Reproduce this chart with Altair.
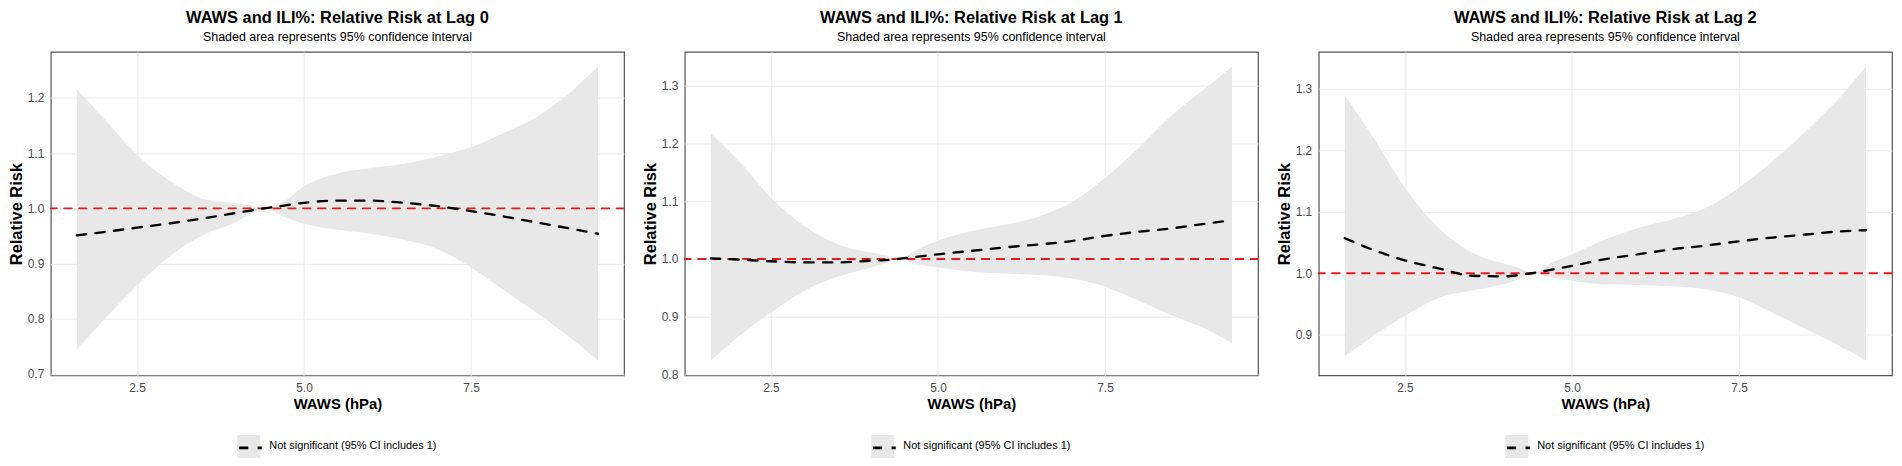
import altair as alt
import numpy as np
import pandas as pd

FONT = "Liberation Sans"
BAND_GREY = "#e8e8e8"
REF_RED = "#e41a1c"
LEGEND_LABEL = "Not significant (95% CI includes 1)"
SUBTITLE = "Shaded area represents 95% confidence interval"

# exposure grid (WAWS, hPa) shared by the three lags
waws = [1.6, 2.0, 2.5, 3.0, 3.5, 4.0, 4.2, 4.4, 4.7, 5.0, 5.5, 6.0, 6.5, 7.0, 7.5, 8.0, 8.5, 9.0, 9.4]
x_ticks = [2.5, 5.0, 7.5]
ref_rr = [1.0]

lags = [0, 1, 2]

rr_lag0 = [0.951, 0.957, 0.965, 0.973, 0.982, 0.992, 0.996, 1.000, 1.005, 1.010,
           1.014, 1.014, 1.010, 1.004, 0.995, 0.985, 0.974, 0.963, 0.954]
lo_lag0 = [0.744, 0.797, 0.860, 0.914, 0.952, 0.976, 0.990, 1.000, 0.985, 0.972,
           0.961, 0.954, 0.943, 0.926, 0.893, 0.851, 0.809, 0.764, 0.724]
hi_lag0 = [1.216, 1.164, 1.097, 1.049, 1.017, 1.009, 1.005, 1.000, 1.012, 1.040,
           1.063, 1.073, 1.081, 1.094, 1.111, 1.137, 1.167, 1.212, 1.257]

rr_lag1 = [1.001, 0.999, 0.996, 0.994, 0.994, 0.997, 0.998, 1.000, 1.004, 1.008,
           1.014, 1.020, 1.025, 1.031, 1.040, 1.047, 1.053, 1.061, 1.067]
lo_lag1 = [0.824, 0.864, 0.907, 0.945, 0.969, 0.985, 0.992, 1.000, 0.991, 0.985,
           0.978, 0.975, 0.972, 0.966, 0.952, 0.928, 0.902, 0.879, 0.854]
hi_lag1 = [1.217, 1.172, 1.106, 1.057, 1.025, 1.011, 1.007, 1.000, 1.017, 1.032,
           1.048, 1.059, 1.073, 1.098, 1.140, 1.192, 1.249, 1.295, 1.333]

rr_lag2 = [1.057, 1.039, 1.021, 1.008, 0.996, 0.995, 0.997, 1.000, 1.006, 1.012,
           1.023, 1.031, 1.039, 1.045, 1.052, 1.058, 1.063, 1.068, 1.070]
lo_lag2 = [0.865, 0.896, 0.931, 0.960, 0.972, 0.983, 0.990, 1.000, 0.993, 0.988,
           0.982, 0.981, 0.979, 0.974, 0.961, 0.936, 0.909, 0.882, 0.858]
hi_lag2 = [1.289, 1.225, 1.139, 1.074, 1.034, 1.015, 1.009, 1.000, 1.017, 1.031,
           1.055, 1.074, 1.088, 1.106, 1.139, 1.182, 1.231, 1.285, 1.336]


def expand(lo, hi, mult=0.05):
    # ggplot-style 5% padding of the data range
    pad = (hi - lo) * mult
    return [lo - pad, hi + pad]


def lag_panel(lag, rr, lower, upper):
    df = pd.DataFrame(
        {
            "waws": waws,
            "rr": rr,
            "lower": lower,
            "upper": upper,
            "band": LEGEND_LABEL,
            "curve": LEGEND_LABEL,
        }
    )
    x_dom = expand(min(waws), max(waws))
    y_dom = expand(min(lower), max(upper))
    y_ticks = [round(v, 1) for v in np.arange(np.ceil(y_dom[0] * 10) / 10, y_dom[1], 0.1)]

    x = alt.X(
        "waws:Q",
        title="WAWS (hPa)",
        scale=alt.Scale(domain=x_dom, nice=False, zero=False),
        axis=alt.Axis(values=x_ticks, format=".1f"),
    )
    y_scale = alt.Scale(domain=y_dom, nice=False, zero=False)
    y_axis = alt.Axis(values=y_ticks, format=".1f", titleFontSize=16.5, titlePadding=2.5)

    # both legends sit on the same spot: grey key underneath, dashed line on top
    legend_pos = dict(
        orient="none", legendX=187.5, legendY=385, padding=0, title=None,
        labelFontSize=11, labelOffset=9, labelLimit=400,
    )

    band = (
        alt.Chart(df)
        .mark_area(interpolate="monotone", opacity=1)
        .encode(
            x=x,
            y=alt.Y("lower:Q", title="Relative Risk", scale=y_scale, axis=y_axis),
            y2="upper:Q",
            fill=alt.Fill(
                "band:N",
                scale=alt.Scale(range=[BAND_GREY]),
                legend=alt.Legend(
                    symbolType="square",
                    symbolSize=529,
                    symbolStrokeWidth=0,
                    symbolOpacity=1,
                    labelColor="black",
                    **legend_pos,
                ),
            ),
        )
    )

    ref = (
        alt.Chart(pd.DataFrame({"rr": ref_rr}))
        .mark_rule(color=REF_RED, strokeWidth=1.9, strokeDash=[7.5, 7.5], strokeCap="round")
        .encode(y=alt.Y("rr:Q", scale=y_scale))
    )

    line = (
        alt.Chart(df)
        .mark_line(interpolate="monotone", strokeWidth=2.35, strokeDash=[9.4, 9.4], strokeCap="round")
        .encode(
            x=x,
            y=alt.Y("rr:Q", scale=y_scale),
            stroke=alt.Stroke(
                "curve:N",
                scale=alt.Scale(range=["black"]),
                legend=alt.Legend(
                    symbolType="stroke",
                    symbolSize=529,
                    symbolStrokeWidth=2.8,
                    symbolDash=[9.4, 9.4],
                    labelOpacity=0,
                    **legend_pos,
                ),
            ),
        )
    )

    return (band + ref + line).properties(
        width=576,
        height=325,
        title=alt.Title(
            text=f"WAWS and ILI%: Relative Risk at Lag {lag}",
            subtitle=SUBTITLE,
        ),
    )


panels = [
    lag_panel(lags[0], rr_lag0, lo_lag0, hi_lag0),
    lag_panel(lags[1], rr_lag1, lo_lag1, hi_lag1),
    lag_panel(lags[2], rr_lag2, lo_lag2, hi_lag2),
]

chart = (
    alt.hconcat(*panels, spacing=16)
    .resolve_scale(fill="independent", stroke="independent")
    .resolve_legend(fill="independent", stroke="independent")
    .properties(padding={"left": 0, "top": 0, "right": 0, "bottom": 0})
    .configure_view(stroke="#555555", strokeWidth=1.2)
    .configure_axis(
        labelFont=FONT,
        titleFont=FONT,
        labelFontSize=12,
        labelColor="#4d4d4d",
        titleFontSize=15,
        titleFontWeight="bold",
        titleColor="black",
        ticks=False,
        tickSize=0,
        domain=False,
        gridColor="#ebebeb",
        gridWidth=1,
    )
    .configure_axisX(labelPadding=7, titlePadding=3)
    .configure_axisY(labelPadding=7)
    .configure_title(
        font=FONT,
        fontSize=16.5,
        fontWeight="bold",
        color="black",
        subtitleFont=FONT,
        subtitleFontSize=12.5,
        subtitleColor="black",
        anchor="middle",
        offset=8,
        subtitlePadding=5,
    )
    .configure_legend(labelFont=FONT)
)

chart.save("out.html", embed_options={"renderer": "svg", "actions": False})
